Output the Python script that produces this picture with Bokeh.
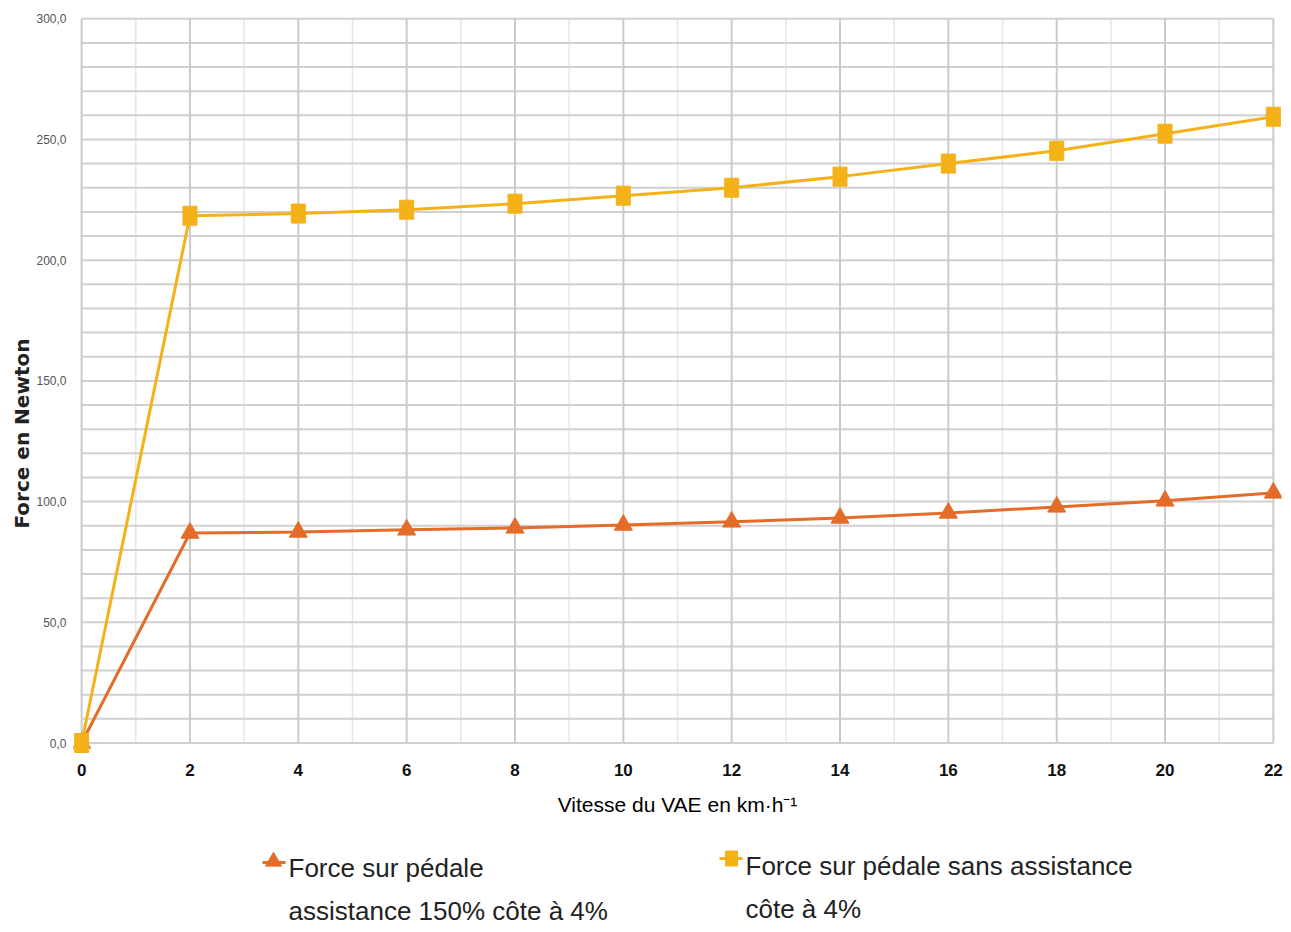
from bokeh.plotting import figure
from bokeh.models import Range1d, FixedTicker, Title
from bokeh.layouts import column
from bokeh.core.properties import value
from bokeh.embed import file_html
from bokeh.resources import INLINE

# ---- data ----
speed = [0, 2, 4, 6, 8, 10, 12, 14, 16, 18, 20, 22]
force_assist = [0, 87.0, 87.4, 88.3, 89.1, 90.3, 91.6, 93.2, 95.3, 97.8, 100.3, 103.6]
force_no_assist = [0, 218.4, 219.3, 220.9, 223.4, 226.7, 230.0, 234.6, 240.0, 245.3, 252.4, 259.4]
x_ticks = [0, 2, 4, 6, 8, 10, 12, 14, 16, 18, 20, 22]
x_minor = [1, 3, 5, 7, 9, 11, 13, 15, 17, 19, 21]
y_ticks = [0, 50, 100, 150, 200, 250, 300]
y_grid = list(range(0, 301, 10))
y_tick_labels = ["0,0", "50,0", "100,0", "150,0", "200,0", "250,0", "300,0"]
label_assist = ["Force sur pédale", "assistance 150% côte à 4%"]
label_no_assist = ["Force sur pédale sans assistance", "côte à 4%"]
x_title = "Vitesse du VAE en km·h⁻¹"
y_title = "Force en Newton"

ORANGE = "#E36C28"
YELLOW = "#F5B218"
SANS = "Liberation Sans"

TOP_H = 825
TOTAL_W = 1283
LEG_H = 100
FRAME_L, FRAME_R = 73, 1281  # page pixels of the plot frame (legend strip aligns to it)

# ---------- main chart ----------
p = figure(width=TOTAL_W, height=TOP_H,
           x_range=Range1d(-0.15, 22.15), y_range=Range1d(-6, 303),
           output_backend="svg", toolbar_location=None,
           min_border_left=FRAME_L, min_border_right=TOTAL_W - FRAME_R,
           min_border_top=11, min_border_bottom=68)
p.outline_line_color = None
p.xgrid.visible = False
p.ygrid.visible = False
p.background_fill_color = "white"
p.border_fill_color = "white"

x0 = x_ticks[0]; x1 = x_ticks[-1]
y0 = y_grid[0]; y1 = y_grid[-1]
p.segment(x0=x_minor, y0=[y0]*len(x_minor), x1=x_minor, y1=[y1]*len(x_minor),
          line_color="#e6e6e6", line_width=1.5)
p.segment(x0=[x0]*len(y_grid), y0=y_grid, x1=[x1]*len(y_grid), y1=y_grid,
          line_color="#d0d0d0", line_width=2)
p.segment(x0=x_ticks, y0=[y0]*len(x_ticks), x1=x_ticks, y1=[y1]*len(x_ticks),
          line_color="#cbcbcb", line_width=2)

p.line(speed, force_no_assist, line_color=YELLOW, line_width=3)
p.line(speed, force_assist, line_color=ORANGE, line_width=3)
p.scatter(speed, force_assist, marker="triangle", size=18, fill_color=ORANGE, line_color=ORANGE)
p.rect(speed, force_no_assist, width=14, height=19, width_units="screen", height_units="screen",
       fill_color=YELLOW, line_color=YELLOW)

p.xaxis.ticker = FixedTicker(ticks=x_ticks)
p.xaxis.axis_line_color = None
p.xaxis.major_tick_line_color = None
p.xaxis.minor_tick_line_color = None
p.xaxis.major_label_text_font = SANS
p.xaxis.major_label_text_font_style = "bold"
p.xaxis.major_label_text_font_size = "17px"
p.xaxis.major_label_text_color = "#111111"
p.xaxis.major_label_standoff = 0
p.xaxis.axis_label = x_title
p.xaxis.axis_label_text_font = SANS
p.xaxis.axis_label_text_font_style = "normal"
p.xaxis.axis_label_text_font_size = "21px"
p.xaxis.axis_label_text_color = "black"
p.xaxis.axis_label_standoff = 14

p.yaxis.ticker = FixedTicker(ticks=y_ticks)
p.yaxis.major_label_overrides = {t: s for t, s in zip(y_ticks, y_tick_labels)}
p.yaxis.axis_line_color = None
p.yaxis.major_tick_line_color = None
p.yaxis.minor_tick_line_color = None
p.yaxis.major_label_text_font = SANS
p.yaxis.major_label_text_font_size = "12px"
p.yaxis.major_label_text_color = "#555555"
p.yaxis.major_label_standoff = 1

# y title as a left-side Title, anchored from the bottom of the frame like the reference
p.add_layout(Title(text=y_title, align="left", offset=229, standoff=0,
                   text_font="DejaVu Sans", text_font_style="bold",
                   text_font_size="20px", text_color="#222222"), "left")

# ---------- legend strip (page-pixel coordinates) ----------
lg = figure(width=TOTAL_W, height=LEG_H, x_range=Range1d(FRAME_L, FRAME_R),
            y_range=Range1d(TOP_H + LEG_H, TOP_H),
            output_backend="svg", toolbar_location=None,
            min_border_left=FRAME_L, min_border_right=TOTAL_W - FRAME_R,
            min_border_top=0, min_border_bottom=0)
lg.axis.visible = False
lg.grid.visible = False
lg.outline_line_color = None
lg.background_fill_color = "white"
lg.border_fill_color = "white"

lg.segment(x0=[262], y0=[862], x1=[285], y1=[862], line_color=ORANGE, line_width=3)
lg.scatter(x=[273], y=[861], marker="triangle", size=16, fill_color=ORANGE, line_color=ORANGE)
lg.segment(x0=[719], y0=[858], x1=[742], y1=[858], line_color=YELLOW, line_width=3)
lg.rect(x=[731], y=[858], width=12, height=15, width_units="screen", height_units="screen",
        fill_color=YELLOW, line_color=YELLOW)
lg.text(x=[288, 288], y=[867, 910], text=label_assist, text_baseline="alphabetic",
        text_font=value(SANS), text_font_size="26px", text_color="#222222")
lg.text(x=[745, 745], y=[865, 908], text=label_no_assist, text_baseline="alphabetic",
        text_font=value(SANS), text_font_size="26px", text_color="#222222")

layout = column(p, lg, spacing=0)
open("out.html", "w").write(file_html(layout, INLINE))
